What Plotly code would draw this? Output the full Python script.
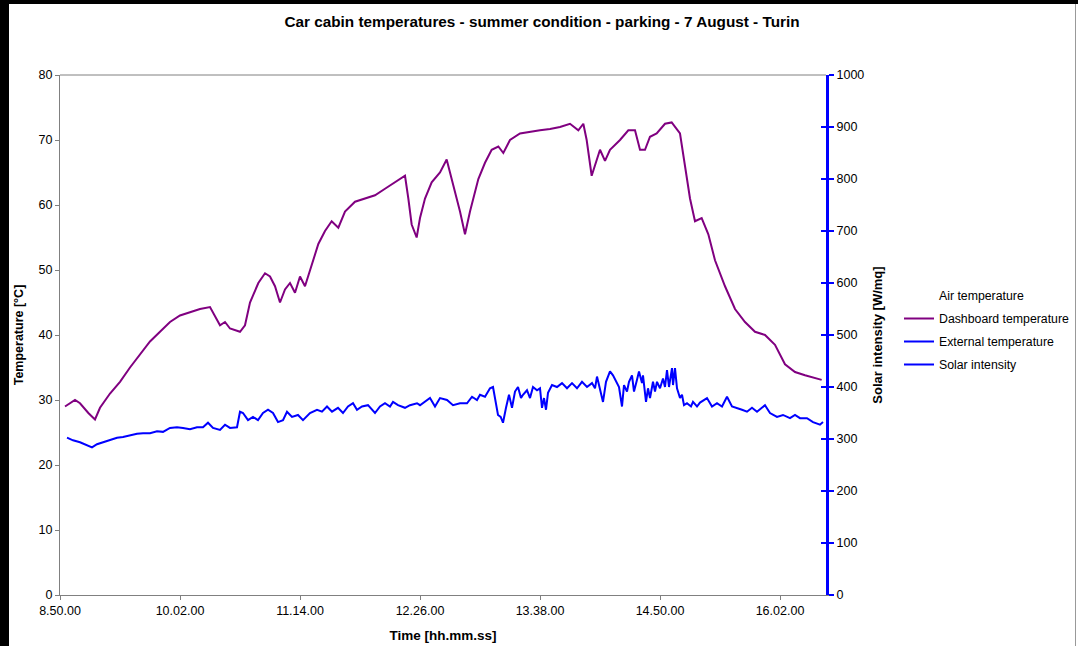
import plotly.graph_objects as go

# time in minutes of day (8.50.00 = 530)
dash_t = [533, 539, 542, 547, 551, 554, 560, 566, 572, 578, 584, 590, 596, 602, 608, 614, 620, 623, 626, 629,
          632, 638, 641, 644, 649, 653, 656, 659, 662, 665, 668, 671, 674, 677, 680, 685, 689, 693, 697, 701,
          707, 713, 719, 725, 731, 737, 739, 741, 744, 746, 749, 753, 758, 762, 764, 767, 770, 773, 776, 781,
          785, 789, 793, 796, 800, 806, 812, 818, 824, 830, 836, 841, 844, 846, 849, 851, 854, 857, 860, 866,
          871, 875, 878, 881, 884, 888, 893, 897, 902, 905, 908, 911, 915, 919, 923, 929, 935, 941, 947, 953,
          959, 965, 971, 977, 983, 987]
dash_v = [29.0, 30.0, 29.5, 28.0, 27.0, 28.8, 31.0, 32.8, 35.0, 37.0, 39.0, 40.5, 42.0, 43.0, 43.5, 44.0, 44.3, 43.0, 41.5, 42.0,
          41.0, 40.5, 41.5, 45.0, 48.0, 49.5, 49.0, 47.5, 45.0, 47.0, 48.0, 46.5, 49.0, 47.5, 50.0, 54.0, 56.0, 57.5, 56.5, 59.0,
          60.5, 61.0, 61.5, 62.5, 63.5, 64.5, 61.0, 57.0, 55.0, 58.0, 61.0, 63.5, 65.0, 67.0, 65.0, 62.0, 59.0, 55.5, 59.0, 64.0,
          66.5, 68.5, 69.0, 68.0, 70.0, 71.0, 71.3, 71.5, 71.7, 72.0, 72.5, 71.5, 72.5, 70.0, 64.5, 66.0, 68.5, 66.8, 68.5, 70.0,
          71.5, 71.5, 68.5, 68.5, 70.5, 71.0, 72.5, 72.7, 71.0, 66.0, 61.0, 57.5, 58.0, 55.5, 51.5, 47.5, 44.0, 42.0, 40.5, 40.0,
          38.5, 35.5, 34.3, 33.8, 33.4, 33.1]

ext_t = [534.2, 537.8, 542.0, 546.2, 549.2, 552.2, 555.8, 560.0, 564.2, 567.8, 572.0, 576.2, 579.8, 584.0, 588.2, 591.8,
         596.0, 600.2, 603.8, 608.0, 612.2, 615.8, 618.8, 621.8, 626.0, 629.0, 632.0, 636.2, 638.0, 639.8, 642.8, 645.8,
         648.8, 651.8, 654.8, 657.8, 660.8, 663.8, 666.2, 669.2, 672.8, 675.8, 680.0, 684.2, 687.2, 690.2, 693.2, 696.8,
         699.8, 702.8, 705.8, 708.2, 711.2, 714.8, 719.0, 722.0, 725.0, 728.0, 729.8, 732.8, 737.0, 740.0, 744.2, 746.0,
         752.0, 755.0, 758.0, 762.2, 765.8, 770.0, 774.2, 777.2, 780.2, 782.0, 785.0, 788.0, 789.8, 791.6, 792.8, 794.4,
         795.8, 797.6, 799.4, 801.2, 803.0, 804.8, 806.6, 807.8, 810.2, 812.0, 813.8, 816.2, 818.0, 819.2, 820.4, 821.6,
         822.8, 825.2, 828.2, 831.2, 834.2, 837.2, 840.2, 843.2, 846.2, 849.2, 851.0, 852.2, 854.0, 855.8, 857.6, 860.0,
         861.8, 864.2, 865.4, 867.2, 868.4, 870.2, 871.4, 873.2, 874.4, 876.2, 877.4, 879.2, 879.8, 881.6, 882.8, 884.0,
         885.8, 887.0, 888.2, 890.0, 891.8, 893.0, 894.2, 895.4, 897.2, 897.8, 899.0, 900.2, 902.0, 903.2, 904.4, 906.2,
         908.6, 909.8, 912.2, 914.0, 918.2, 921.2, 924.2, 927.2, 930.2, 933.2, 936.2, 939.2, 942.2, 945.2, 948.2, 951.2,
         953.0, 956.0, 960.2, 963.8, 968.0, 971.0, 974.0, 978.2, 981.8, 986.0, 987.8]
ext_v = [24.2, 23.8, 23.5, 23.1, 22.7, 23.2, 23.5, 23.8, 24.2, 24.3, 24.6, 24.8, 24.9, 24.9, 25.2, 25.1,
         25.7, 25.8, 25.7, 25.5, 25.8, 25.8, 26.5, 25.7, 25.4, 26.2, 25.7, 25.8, 28.2, 28.0, 26.9, 27.4,
         26.9, 28.0, 28.5, 28.0, 26.6, 26.9, 28.2, 27.4, 27.7, 26.9, 28.0, 28.5, 28.2, 29.0, 28.2, 28.8,
         28.0, 29.0, 29.5, 28.5, 29.0, 29.2, 28.0, 29.0, 29.5, 29.0, 29.7, 29.2, 28.8, 29.2, 29.5, 29.2,
         30.3, 29.0, 30.3, 30.0, 29.2, 29.5, 29.5, 30.5, 30.0, 30.8, 30.5, 31.8, 32.0, 29.7, 27.7, 27.4,
         26.5, 28.8, 30.8, 28.8, 31.3, 32.0, 30.3, 30.8, 31.5, 30.3, 32.0, 31.5, 31.8, 28.8, 30.3, 28.5,
         31.1, 32.3, 32.0, 32.6, 31.8, 32.6, 31.8, 32.8, 32.0, 32.6, 31.8, 33.6, 31.8, 29.7, 32.8, 34.4,
         33.8, 32.6, 32.0, 29.0, 32.3, 31.3, 32.8, 33.8, 31.3, 33.1, 34.4, 32.6, 33.8, 29.7, 31.8, 30.3,
         32.8, 31.3, 32.8, 31.8, 33.3, 32.0, 34.6, 32.0, 34.9, 32.3, 34.9, 31.8, 30.3, 30.8, 29.2, 29.5,
         29.0, 29.7, 29.0, 29.6, 30.3, 29.0, 29.5, 29.0, 30.5, 29.0, 28.8, 28.5, 28.2, 28.8, 28.2, 28.8,
         29.2, 28.0, 27.4, 27.7, 27.2, 27.7, 27.2, 27.2, 26.6, 26.2, 26.6]

tick_vals = [530, 602, 674, 746, 818, 890, 962]
tick_text = ["8.50.00", "10.02.00", "11.14.00", "12.26.00", "13.38.00", "14.50.00", "16.02.00"]

FONT = "Liberation Sans, Arial, sans-serif"

fig = go.Figure()
fig.add_trace(go.Scatter(x=[None], y=[None], name="Air temperature", mode="lines",
                         line=dict(color="rgba(0,0,0,0)", width=2), legendgroup="a"))
fig.add_trace(go.Scatter(x=dash_t, y=dash_v, name="Dashboard temperature", mode="lines",
                         line=dict(color="#800080", width=2), legendgroup="b"))
fig.add_trace(go.Scatter(x=ext_t, y=ext_v, name="External temperature", mode="lines",
                         line=dict(color="#0000FF", width=2), legendgroup="c"))
fig.add_trace(go.Scatter(x=[None], y=[None], name="Solar intensity", mode="lines", yaxis="y2",
                         line=dict(color="#0000FF", width=2), legendgroup="d"))
fig.add_trace(go.Scatter(x=[None], y=[None], mode="lines", yaxis="y3", showlegend=False,
                         hoverinfo="skip", line=dict(color="rgba(0,0,0,0)")))

L, R, T, B = 60, 252, 75, 51
W, H = 1078, 646
pw, ph = W - L - R, H - T - B

def px(x):
    return (x - L) / pw

def py(y):
    return (H - B - y) / ph

shapes = [
    dict(type="rect", xref="paper", yref="paper", x0=px(-5), x1=px(9), y0=py(H + 5), y1=py(-5),
         fillcolor="black", line=dict(width=0), layer="above"),
    dict(type="rect", xref="paper", yref="paper", x0=px(-5), x1=px(W + 5), y0=py(4), y1=py(-5),
         fillcolor="black", line=dict(width=0), layer="above"),
    dict(type="line", xref="paper", yref="paper", x0=px(1075.5), x1=px(1075.5), y0=py(H + 5), y1=py(4),
         line=dict(color="#999999", width=1)),
    dict(type="line", xref="paper", yref="paper", x0=0, x1=1, y0=1, y1=1,
         line=dict(color="#808080", width=1)),
]

fig.update_layout(
    width=W, height=H,
    margin=dict(l=L, r=R, t=T, b=B, autoexpand=False),
    paper_bgcolor="white", plot_bgcolor="white",
    font=dict(family=FONT, size=12, color="black"),
    title=dict(text="<b>Car cabin temperatures - summer condition - parking - 7 August - Turin</b>",
               xref="container", x=542 / W, xanchor="center", y=1 - 22 / H, yanchor="middle",
               font=dict(family=FONT, size=15.3, color="black")),
    showlegend=True,
    legend=dict(x=px(899), y=py(281), xanchor="left", yanchor="top",
                font=dict(family=FONT, size=12.3, color="black"),
                bgcolor="rgba(0,0,0,0)", tracegroupgap=4, traceorder="grouped"),
    xaxis=dict(range=[530, 530 + 766 * 0.6], tickvals=tick_vals, ticktext=tick_text,
               showgrid=False, zeroline=False, showline=True, linecolor="#808080", linewidth=1,
               ticks="outside", ticklen=4, tickcolor="#808080",
               tickfont=dict(family=FONT, size=12.5),
               title=dict(text="<b>Time [hh.mm.ss]</b>", font=dict(family=FONT, size=13.5), standoff=13)),
    yaxis=dict(range=[0, 80], dtick=10, showgrid=False, zeroline=False, showline=True,
               linecolor="#808080", linewidth=1, ticks="outside", ticklen=4, tickcolor="#808080",
               tickfont=dict(family=FONT, size=12.5),
               title=dict(text="<b>Temperature [°C]</b>", font=dict(family=FONT, size=12.5), standoff=12)),
    yaxis2=dict(range=[0, 1000], dtick=100, overlaying="y", side="right", showgrid=False, zeroline=False,
                showline=True, linecolor="#0000FF", linewidth=3, ticks="outside", ticklen=5,
                tickcolor="#0000FF", tickwidth=2, tickfont=dict(family=FONT, size=12.5),
                title=dict(text="<b>Solar intensity [W/mq]</b>", font=dict(family=FONT, size=13), standoff=10)),
    yaxis3=dict(range=[0, 1000], dtick=100, overlaying="y", side="right", showgrid=False, zeroline=False,
                showline=False, ticks="inside", ticklen=5, tickcolor="#0000FF", tickwidth=2,
                showticklabels=False),
    shapes=shapes,
)

fig.write_html("out.html")
